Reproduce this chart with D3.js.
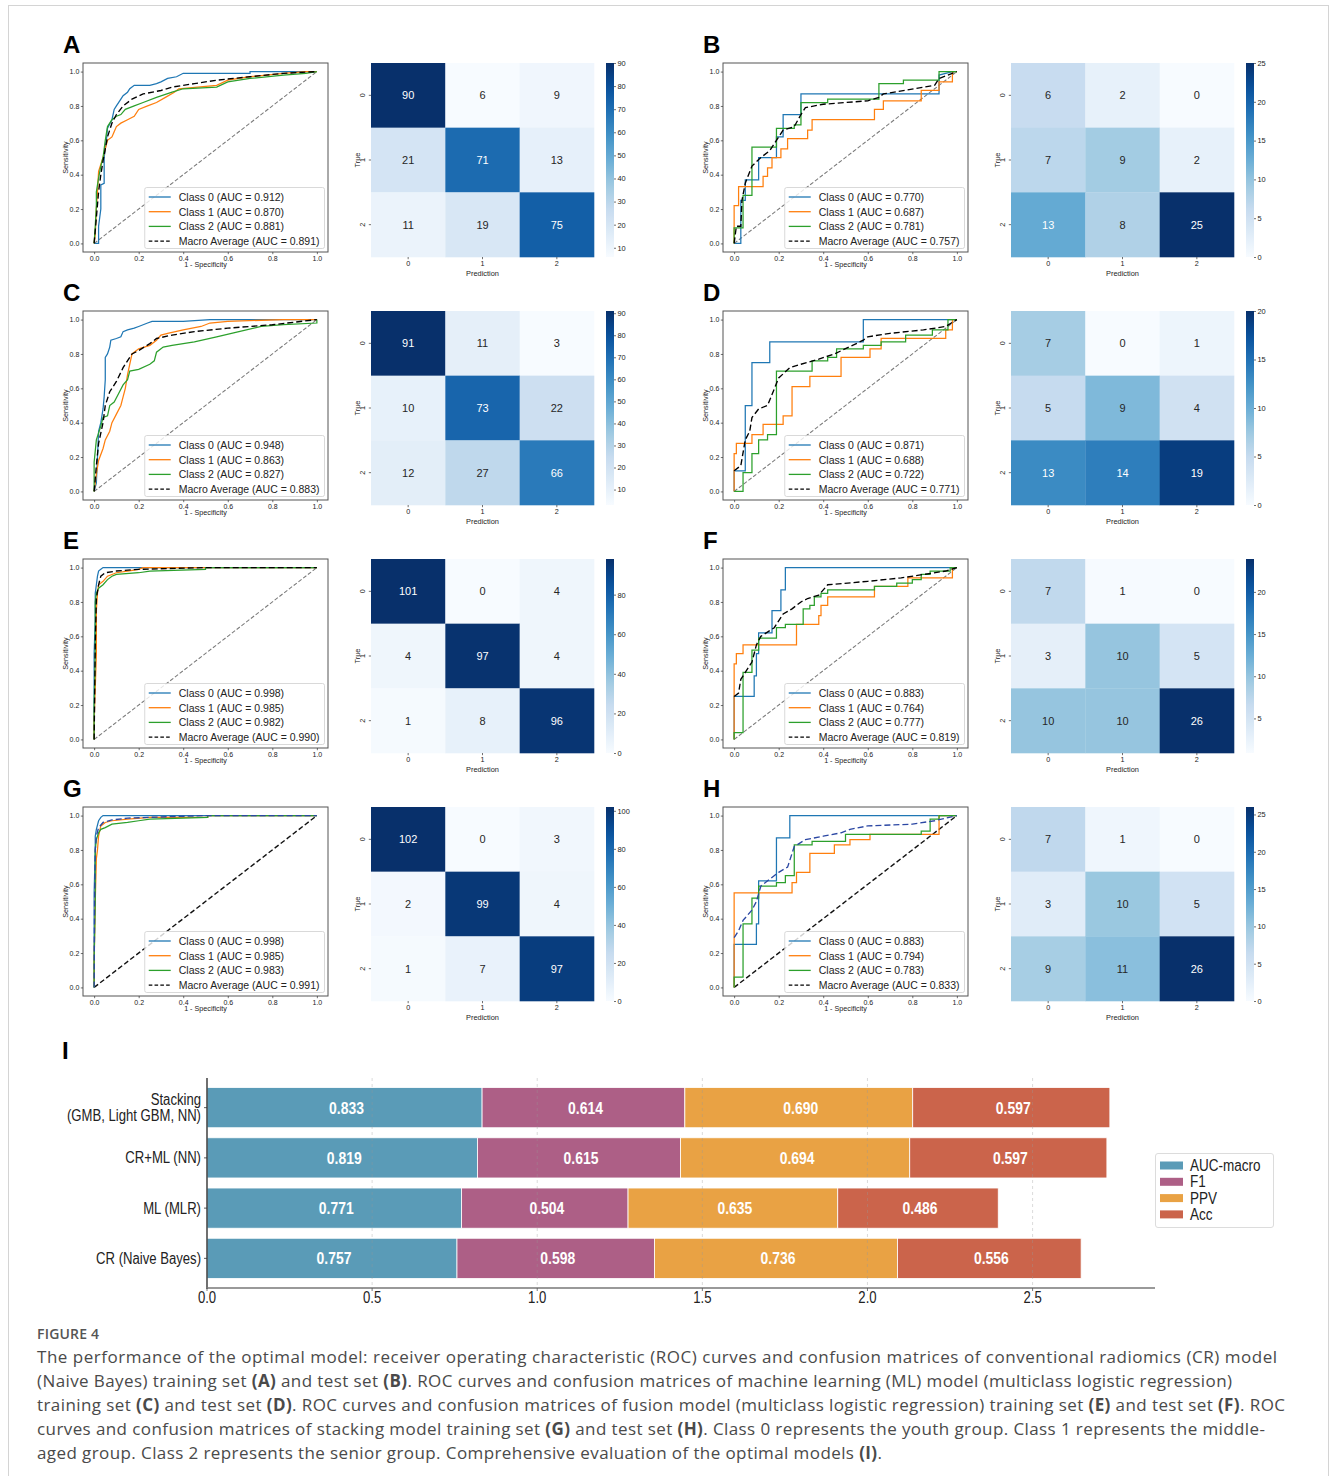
<!DOCTYPE html>
<html><head><meta charset="utf-8">
<script src="https://cdn.jsdelivr.net/npm/d3@7"></script>
<style>body{margin:0;background:#fff}svg{display:block}</style>
</head><body>
<svg id="fig" width="1330" height="1476"></svg>
<script>
// ---------------- DATA ----------------
const panelLetters = ["A","B","C","D","E","F","G","H"];
const classNames = ["Class 0","Class 1","Class 2","Macro Average"];
const rocTicks = [0,0.2,0.4,0.6,0.8,1.0];
const diagLine = [[0,0],[1,1]];

// Panel A (CR training)
const rocA0 = [[0,0],[0.02,0],[0.02,0.1],[0.03,0.2],[0.03,0.34],[0.045,0.35],[0.045,0.5],[0.055,0.6],[0.06,0.67],[0.08,0.72],[0.09,0.78],[0.1,0.8],[0.12,0.84],[0.13,0.86],[0.15,0.88],[0.16,0.9],[0.18,0.92],[0.25,0.92],[0.28,0.93],[0.3,0.94],[0.33,0.96],[0.37,0.97],[0.4,0.99],[0.7,0.99],[0.7,1.0],[1,1]];
const rocA1 = [[0,0],[0.005,0.05],[0.01,0.2],[0.015,0.3],[0.02,0.42],[0.03,0.46],[0.04,0.5],[0.05,0.55],[0.06,0.6],[0.08,0.62],[0.09,0.65],[0.1,0.68],[0.12,0.7],[0.15,0.72],[0.18,0.74],[0.2,0.78],[0.24,0.8],[0.28,0.82],[0.32,0.85],[0.36,0.88],[0.38,0.9],[0.55,0.92],[0.6,0.95],[0.7,0.97],[0.85,0.99],[0.95,1.0],[1,1]];
const rocA2 = [[0,0],[0.005,0.1],[0.01,0.22],[0.01,0.3],[0.02,0.38],[0.03,0.45],[0.04,0.5],[0.05,0.6],[0.06,0.68],[0.08,0.72],[0.1,0.74],[0.12,0.75],[0.14,0.78],[0.18,0.8],[0.22,0.82],[0.28,0.85],[0.35,0.88],[0.4,0.9],[0.55,0.91],[0.6,0.94],[0.7,0.96],[0.85,0.98],[0.95,0.99],[1,1]];
const rocAm = [[0,0],[0.01,0.15],[0.02,0.3],[0.03,0.4],[0.04,0.48],[0.05,0.55],[0.06,0.62],[0.08,0.7],[0.1,0.75],[0.13,0.8],[0.17,0.84],[0.22,0.87],[0.3,0.89],[0.35,0.91],[0.45,0.93],[0.55,0.95],[0.7,0.97],[0.85,0.99],[1,1]];
// Panel B (CR test)
const rocB0 = [[0,0],[0.03,0],[0.03,0.25],[0.05,0.25],[0.05,0.37],[0.11,0.37],[0.11,0.5],[0.19,0.5],[0.19,0.62],[0.22,0.62],[0.22,0.75],[0.3,0.75],[0.3,0.87],[0.92,0.87],[0.92,0.98],[0.98,1.0],[1,1]];
const rocB1 = [[0,0],[0,0.22],[0.02,0.22],[0.02,0.33],[0.13,0.33],[0.13,0.39],[0.15,0.39],[0.15,0.44],[0.17,0.44],[0.17,0.5],[0.21,0.5],[0.21,0.55],[0.24,0.55],[0.24,0.61],[0.33,0.61],[0.33,0.66],[0.35,0.66],[0.35,0.72],[0.63,0.72],[0.63,0.78],[0.67,0.78],[0.67,0.83],[0.84,0.83],[0.84,0.89],[0.92,0.89],[0.92,0.94],[0.98,0.94],[0.98,1.0],[1,1]];
const rocB2 = [[0,0],[0,0.09],[0.04,0.09],[0.04,0.28],[0.08,0.28],[0.08,0.56],[0.19,0.56],[0.19,0.67],[0.27,0.67],[0.27,0.69],[0.3,0.69],[0.3,0.82],[0.42,0.82],[0.42,0.84],[0.65,0.84],[0.65,0.93],[0.76,0.93],[0.76,0.95],[0.92,0.95],[0.92,1.0],[1,1]];
const rocBm = [[0,0],[0.01,0.1],[0.03,0.1],[0.035,0.25],[0.05,0.35],[0.08,0.45],[0.12,0.5],[0.16,0.54],[0.19,0.6],[0.22,0.66],[0.27,0.68],[0.3,0.75],[0.32,0.79],[0.4,0.81],[0.6,0.83],[0.65,0.85],[0.67,0.87],[0.9,0.92],[0.92,0.96],[1,1]];
// Panel C (ML training)
const rocC0 = [[0,0],[0.01,0.05],[0.015,0.2],[0.02,0.35],[0.03,0.4],[0.04,0.48],[0.045,0.55],[0.05,0.65],[0.05,0.78],[0.06,0.8],[0.07,0.84],[0.075,0.88],[0.1,0.89],[0.12,0.9],[0.13,0.93],[0.15,0.94],[0.18,0.95],[0.2,0.96],[0.24,0.98],[0.26,0.99],[0.4,0.99],[0.52,1.0],[1,1]];
const rocC1 = [[0,0],[0.01,0.1],[0.02,0.18],[0.04,0.25],[0.05,0.3],[0.07,0.35],[0.08,0.4],[0.1,0.45],[0.12,0.5],[0.13,0.55],[0.14,0.6],[0.15,0.68],[0.17,0.8],[0.2,0.83],[0.25,0.85],[0.28,0.88],[0.3,0.91],[0.33,0.92],[0.4,0.94],[0.48,0.96],[0.52,0.98],[0.6,0.99],[0.85,1.0],[1,1]];
const rocC2 = [[0,0],[0,0.17],[0.01,0.3],[0.03,0.38],[0.04,0.43],[0.06,0.44],[0.07,0.5],[0.09,0.52],[0.11,0.57],[0.13,0.62],[0.15,0.65],[0.16,0.7],[0.2,0.71],[0.25,0.74],[0.27,0.76],[0.28,0.81],[0.31,0.84],[0.35,0.85],[0.45,0.87],[0.55,0.9],[0.65,0.93],[0.75,0.96],[0.85,0.97],[1,0.98],[1,1]];
const rocCm = [[0,0],[0.01,0.15],[0.02,0.28],[0.04,0.4],[0.05,0.5],[0.07,0.58],[0.1,0.64],[0.13,0.72],[0.17,0.8],[0.2,0.82],[0.25,0.86],[0.28,0.89],[0.35,0.91],[0.45,0.93],[0.6,0.95],[0.8,0.97],[1,1]];
// Panel D (ML test)
const rocD0 = [[0,0],[0,0.12],[0.05,0.12],[0.05,0.5],[0.08,0.5],[0.08,0.75],[0.16,0.75],[0.16,0.87],[0.58,0.87],[0.58,1.0],[1,1]];
const rocD1 = [[0,0],[0,0.22],[0.01,0.22],[0.01,0.28],[0.08,0.28],[0.08,0.33],[0.13,0.33],[0.13,0.39],[0.22,0.39],[0.22,0.44],[0.26,0.44],[0.26,0.61],[0.34,0.61],[0.34,0.67],[0.48,0.67],[0.48,0.78],[0.61,0.78],[0.61,0.83],[0.66,0.83],[0.66,0.89],[0.95,0.89],[0.95,0.94],[0.98,0.94],[0.98,1.0],[1,1]];
const rocD2 = [[0,0],[0.04,0],[0.04,0.11],[0.08,0.11],[0.08,0.22],[0.11,0.22],[0.11,0.3],[0.15,0.3],[0.15,0.33],[0.19,0.33],[0.19,0.7],[0.35,0.7],[0.35,0.76],[0.42,0.76],[0.42,0.78],[0.46,0.78],[0.46,0.83],[0.58,0.83],[0.58,0.85],[0.66,0.85],[0.66,0.87],[0.77,0.87],[0.77,0.91],[0.89,0.91],[0.89,0.94],[0.96,0.94],[0.96,1.0],[1,1]];
const rocDm = [[0,0.12],[0.03,0.15],[0.05,0.3],[0.07,0.35],[0.08,0.43],[0.11,0.48],[0.15,0.5],[0.2,0.66],[0.25,0.72],[0.3,0.74],[0.38,0.77],[0.45,0.8],[0.58,0.88],[0.6,0.9],[0.7,0.92],[0.85,0.94],[0.95,0.96],[1,1]];
// Panel E (fusion training)
const rocE0 = [[0,0],[0,0.5],[0.005,0.7],[0.005,0.85],[0.01,0.9],[0.015,0.95],[0.02,0.98],[0.03,0.99],[0.04,1],[1,1]];
const rocE1 = [[0,0],[0,0.1],[0.005,0.3],[0.01,0.5],[0.01,0.75],[0.015,0.85],[0.02,0.9],[0.04,0.92],[0.06,0.95],[0.1,0.97],[0.15,0.98],[0.2,0.99],[0.22,1.0],[1,1]];
const rocE2 = [[0,0],[0,0.2],[0.005,0.5],[0.005,0.8],[0.01,0.85],[0.02,0.88],[0.04,0.9],[0.06,0.93],[0.08,0.95],[0.1,0.96],[0.2,0.97],[0.25,0.98],[0.5,0.99],[0.5,1.0],[1,1]];
const rocEm = [[0,0],[0.005,0.55],[0.01,0.82],[0.02,0.9],[0.03,0.95],[0.05,0.97],[0.1,0.98],[0.2,0.99],[0.5,1.0],[1,1]];
// Panel F (fusion test)
const rocF0 = [[0,0],[0,0.25],[0.09,0.25],[0.09,0.37],[0.1,0.37],[0.1,0.5],[0.11,0.5],[0.11,0.62],[0.17,0.62],[0.17,0.75],[0.21,0.75],[0.21,0.87],[0.23,0.87],[0.23,1.0],[1,1]];
const rocF1 = [[0,0],[0,0.44],[0.01,0.44],[0.01,0.5],[0.04,0.5],[0.04,0.55],[0.28,0.55],[0.28,0.67],[0.38,0.67],[0.38,0.72],[0.39,0.72],[0.39,0.78],[0.42,0.78],[0.42,0.83],[0.63,0.83],[0.63,0.89],[0.78,0.89],[0.78,0.94],[0.98,0.94],[0.98,1.0],[1,1]];
const rocF2 = [[0,0],[0,0.04],[0.04,0.04],[0.04,0.39],[0.08,0.39],[0.08,0.52],[0.11,0.52],[0.11,0.59],[0.19,0.59],[0.19,0.65],[0.23,0.65],[0.23,0.67],[0.31,0.67],[0.31,0.76],[0.34,0.76],[0.34,0.78],[0.36,0.78],[0.36,0.83],[0.39,0.83],[0.39,0.85],[0.42,0.85],[0.42,0.87],[0.63,0.87],[0.63,0.89],[0.73,0.89],[0.73,0.91],[0.8,0.91],[0.8,0.93],[0.84,0.93],[0.84,0.96],[0.88,0.96],[0.88,0.98],[0.97,0.98],[0.97,1.0],[1,1]];
const rocFm = [[0,0.25],[0.02,0.27],[0.03,0.35],[0.05,0.39],[0.08,0.45],[0.1,0.55],[0.12,0.6],[0.18,0.65],[0.22,0.73],[0.26,0.76],[0.3,0.8],[0.33,0.82],[0.38,0.84],[0.42,0.9],[0.6,0.92],[0.75,0.94],[0.85,0.96],[0.95,0.98],[1,1]];
// Panel G (stacking training)
const rocG0 = [[0,0],[0,0.55],[0.005,0.8],[0.005,0.88],[0.01,0.92],[0.02,0.97],[0.03,0.99],[0.04,1.0],[1,1]];
const rocG1 = [[0,0],[0,0.15],[0.005,0.5],[0.01,0.75],[0.015,0.8],[0.02,0.88],[0.03,0.94],[0.05,0.96],[0.08,0.97],[0.15,0.98],[0.25,0.99],[0.51,0.99],[0.51,1.0],[1,1]];
const rocG2 = [[0,0],[0,0.15],[0.005,0.5],[0.005,0.8],[0.01,0.86],[0.02,0.9],[0.03,0.92],[0.05,0.93],[0.08,0.95],[0.15,0.96],[0.2,0.97],[0.25,0.98],[0.51,0.99],[0.51,1.0],[1,1]];
const rocGm = [[0,0],[0.002,0.5],[0.005,0.8],[0.01,0.88],[0.02,0.93],[0.04,0.96],[0.08,0.975],[0.15,0.985],[0.25,0.99],[0.5,1.0],[1,1]];
// Panel H (stacking test)
const rocH0 = [[0,0],[0,0.25],[0.1,0.25],[0.1,0.37],[0.11,0.37],[0.11,0.62],[0.19,0.62],[0.19,0.87],[0.25,0.87],[0.25,1.0],[1,1]];
const rocH1 = [[0,0],[0,0.55],[0.26,0.55],[0.26,0.61],[0.28,0.61],[0.28,0.67],[0.34,0.67],[0.34,0.78],[0.45,0.78],[0.45,0.83],[0.52,0.83],[0.52,0.86],[0.61,0.86],[0.61,0.89],[0.92,0.89],[0.92,0.94],[0.92,1.0],[1,1]];
const rocH2 = [[0,0],[0,0.06],[0.04,0.06],[0.04,0.37],[0.08,0.37],[0.08,0.52],[0.11,0.52],[0.11,0.59],[0.19,0.59],[0.19,0.61],[0.23,0.61],[0.23,0.65],[0.27,0.65],[0.27,0.83],[0.35,0.83],[0.35,0.85],[0.5,0.85],[0.5,0.89],[0.84,0.89],[0.84,0.91],[0.88,0.91],[0.88,0.98],[0.92,0.98],[0.92,1.0],[1,1]];
const rocHm = [[0,0.29],[0.02,0.33],[0.04,0.39],[0.08,0.45],[0.1,0.5],[0.12,0.59],[0.16,0.63],[0.2,0.67],[0.24,0.7],[0.27,0.82],[0.32,0.86],[0.4,0.88],[0.48,0.9],[0.52,0.92],[0.6,0.94],[0.8,0.95],[0.9,0.97],[1,1]];

const rocSets = [[rocA0,rocA1,rocA2,rocAm],[rocB0,rocB1,rocB2,rocBm],[rocC0,rocC1,rocC2,rocCm],[rocD0,rocD1,rocD2,rocDm],
                 [rocE0,rocE1,rocE2,rocEm],[rocF0,rocF1,rocF2,rocFm],[rocG0,rocG1,rocG2,rocGm],[rocH0,rocH1,rocH2,rocHm]];

const aucA = ["0.912","0.870","0.881","0.891"];
const aucB = ["0.770","0.687","0.781","0.757"];
const aucC = ["0.948","0.863","0.827","0.883"];
const aucD = ["0.871","0.688","0.722","0.771"];
const aucE = ["0.998","0.985","0.982","0.990"];
const aucF = ["0.883","0.764","0.777","0.819"];
const aucG = ["0.998","0.985","0.983","0.991"];
const aucH = ["0.883","0.794","0.783","0.833"];
const aucSets = [aucA,aucB,aucC,aucD,aucE,aucF,aucG,aucH];

// Confusion matrices (rows = True, cols = Prediction)
const cmA = [[90,6,9],[21,71,13],[11,19,75]];
const cmB = [[6,2,0],[7,9,2],[13,8,25]];
const cmC = [[91,11,3],[10,73,22],[12,27,66]];
const cmD = [[7,0,1],[5,9,4],[13,14,19]];
const cmE = [[101,0,4],[4,97,4],[1,8,96]];
const cmF = [[7,1,0],[3,10,5],[10,10,26]];
const cmG = [[102,0,3],[2,99,4],[1,7,97]];
const cmH = [[7,1,0],[3,10,5],[9,11,26]];
const cmSets = [cmA,cmB,cmC,cmD,cmE,cmF,cmG,cmH];
const cmLabels = ["0","1","2"];

// colour-bar ranges and ticks
const cbarDomains = [[6,90],[0,25],[3,91],[0,20],[0,98],[0.9,23.9],[0,102],[0,26]];
const cbarTicks = [[10,20,30,40,50,60,70,80,90],[0,5,10,15,20,25],[10,20,30,40,50,60,70,80,90],[0,5,10,15,20],
                   [0,20,40,60,80],[5,10,15,20],[0,20,40,60,80,100],[0,5,10,15,20,25]];

// Panel I: stacked bars
const barCategories = ["Stacking\n(GMB, Light GBM, NN)","CR+ML (NN)","ML (MLR)","CR (Naive Bayes)"];
const metricNames = ["AUC-macro","F1","PPV","Acc"];
const aucMacro = [0.833,0.819,0.771,0.757];
const f1Score  = [0.614,0.615,0.504,0.598];
const ppvScore = [0.690,0.694,0.635,0.736];
const accScore = [0.597,0.597,0.486,0.556];
const barTicks = [0.0,0.5,1.0,1.5,2.0,2.5];

// Caption
const captionTitle = "FIGURE 4";
const captionLines = [
  [["The performance of the optimal model: receiver operating characteristic (ROC) curves and confusion matrices of conventional radiomics (CR) model",0]],
  [["(Naive Bayes) training set ",0],["(A)",1],[" and test set ",0],["(B)",1],[". ROC curves and confusion matrices of machine learning (ML) model (multiclass logistic regression)",0]],
  [["training set ",0],["(C)",1],[" and test set ",0],["(D)",1],[". ROC curves and confusion matrices of fusion model (multiclass logistic regression) training set ",0],["(E)",1],[" and test set ",0],["(F)",1],[". ROC",0]],
  [["curves and confusion matrices of stacking model training set ",0],["(G)",1],[" and test set ",0],["(H)",1],[". Class 0 represents the youth group. Class 1 represents the middle-",0]],
  [["aged group. Class 2 represents the senior group. Comprehensive evaluation of the optimal models ",0],["(I)",1],[".",0]]
];
const captionWidths = [1240,1195,1248,1228,845];

// ---------------- DRAWING ----------------
const svg = d3.select("#fig");
const FONT = "'Liberation Sans', Arial, sans-serif";
svg.append("rect").attr("x",8.5).attr("y",5.5).attr("width",1320).attr("height",1490)
   .attr("fill","#fff").attr("stroke","#d4d4d4").attr("stroke-width",1);

const classColors = ["#1f77b4","#ff7f0e","#2ca02c"];
const macroColors = ["#000","#000","#000","#000","#000","#000","#2b47a3","#2b47a3"];
const diagStyles = [0,0,0,0,0,0,1,1];

const blues = d3.scaleLinear().domain(d3.range(9).map(i=>i/8))
  .range(["#f7fbff","#deebf7","#c6dbef","#9ecae1","#6baed6","#4292c6","#2171b5","#08519c","#08306b"]).clamp(true);

function relLum(c){
  const r = d3.rgb(c);
  const f = v => { v/=255; return v<=0.03928 ? v/12.92 : Math.pow((v+0.055)/1.055,2.4); };
  return 0.2126*f(r.r)+0.7152*f(r.g)+0.0722*f(r.b);
}

function styleAxis(a, size){
  a.attr("font-family",FONT).attr("font-size",size);
  a.selectAll("text").attr("fill","#222");
  a.selectAll("line").attr("stroke","#333").attr("stroke-width",0.7);
}

const RW = 245, RH = 189, CW = 223, CH = 194;

function drawRoc(i, x0, y0){
  const g = svg.append("g");
  const curves = rocSets[i], aucs = aucSets[i];
  const x = d3.scaleLinear().domain([-0.05,1.05]).range([x0,x0+RW]);
  const y = d3.scaleLinear().domain([-0.05,1.05]).range([y0+RH,y0]);
  const line = d3.line().x(d=>x(d[0])).y(d=>y(d[1]));
  const strongDiag = diagStyles[i]===1;
  g.append("path").datum(diagLine).attr("d",line).attr("fill","none")
    .attr("stroke", strongDiag ? "#111" : "#7a7a7a")
    .attr("stroke-width", strongDiag ? 1.4 : 1.05)
    .attr("stroke-dasharray", strongDiag ? "5,2.6" : "4,2");
  curves.forEach((c,k)=>{
    g.append("path").datum(c).attr("d",line).attr("fill","none")
      .attr("stroke", k<3 ? classColors[k] : macroColors[i])
      .attr("stroke-width", k<3 ? 1.25 : 1.35)
      .attr("stroke-dasharray", k<3 ? null : "6,3")
      .attr("stroke-linejoin","miter");
  });
  g.append("rect").attr("x",x0).attr("y",y0).attr("width",RW).attr("height",RH)
    .attr("fill","none").attr("stroke","#555").attr("stroke-width",1);
  const xa = g.append("g").attr("transform",`translate(0,${y0+RH})`)
    .call(d3.axisBottom(x).tickValues(rocTicks).tickFormat(d3.format(".1f")).tickSize(2.2).tickPadding(1.5));
  xa.select(".domain").remove(); styleAxis(xa,7);
  const ya = g.append("g").attr("transform",`translate(${x0},0)`)
    .call(d3.axisLeft(y).tickValues(rocTicks).tickFormat(d3.format(".1f")).tickSize(2.2).tickPadding(1.5));
  ya.select(".domain").remove(); styleAxis(ya,7);
  g.append("text").attr("x",(x(0)+x(1))/2).attr("y",y0+RH+15).attr("text-anchor","middle")
    .attr("font-family",FONT).attr("font-size",7.2).attr("fill","#222").text("1 - Specificity");
  g.append("text").attr("transform",`translate(${x0-15.5},${y0+RH/2}) rotate(-90)`).attr("text-anchor","middle")
    .attr("font-family",FONT).attr("font-size",7.2).attr("fill","#222").text("Sensitivity");
  // legend
  const lg = g.append("g");
  const texts = classNames.map((n,k)=>`${n} (AUC = ${aucs[k]})`);
  const box = lg.append("rect").attr("rx",2).attr("fill","#fff").attr("fill-opacity",0.8)
    .attr("stroke","#cfcfcf").attr("stroke-width",0.8);
  let maxW = 0;
  const tEls = texts.map(t=>{
    const el = lg.append("text").attr("font-family",FONT).attr("font-size",10.5).attr("fill","#222").text(t);
    maxW = Math.max(maxW, el.node().getComputedTextLength());
    return el;
  });
  const bw = 34 + maxW + 5, bh = 61;
  const bx = x0+RW-3.5-bw, by = y0+RH-3.5-bh;
  box.attr("x",bx).attr("y",by).attr("width",bw).attr("height",bh);
  tEls.forEach((el,k)=>{
    const cy = by+9.5+14.7*k;
    el.attr("x",bx+34).attr("y",cy+3.8);
    lg.append("line").attr("x1",bx+4).attr("x2",bx+26).attr("y1",cy).attr("y2",cy)
      .attr("stroke", k<3 ? classColors[k] : "#000").attr("stroke-width",1.3)
      .attr("stroke-dasharray", k<3 ? null : "3.6,2.2");
  });
}

function drawCM(i, x0, y0){
  const g = svg.append("g");
  const mat = cmSets[i];
  const xb = d3.scaleBand().domain([0,1,2]).range([x0,x0+CW]);
  const yb = d3.scaleBand().domain([0,1,2]).range([y0,y0+CH]);
  const t = d3.scaleLinear().domain(cbarDomains[i]).range([0,1]).clamp(true);
  mat.forEach((row,r)=>row.forEach((v,c)=>{
    const col = blues(t(v));
    g.append("rect").attr("x",xb(c)).attr("y",yb(r)).attr("width",xb.bandwidth()+0.3).attr("height",yb.bandwidth()+0.3).attr("fill",col);
    g.append("text").attr("x",xb(c)+xb.bandwidth()/2).attr("y",yb(r)+yb.bandwidth()/2+4)
      .attr("text-anchor","middle").attr("font-family",FONT).attr("font-size",11)
      .attr("fill", relLum(col) > 0.408 ? "#262626" : "#fff").text(v);
  }));
  const xa = g.append("g").attr("transform",`translate(0,${y0+CH})`)
    .call(d3.axisBottom(d3.scaleBand().domain(cmLabels).range([x0,x0+CW])).tickSize(2.2).tickPadding(1.5));
  xa.select(".domain").remove(); styleAxis(xa,7.2);
  const ya = g.append("g").attr("transform",`translate(${x0},0)`)
    .call(d3.axisLeft(d3.scaleBand().domain(cmLabels).range([y0,y0+CH])).tickSize(2.2).tickPadding(1.5));
  ya.select(".domain").remove(); styleAxis(ya,7.2);
  ya.selectAll(".tick text").attr("x",-6).attr("y",0).attr("dy",null)
    .attr("transform","rotate(-90,-6,0)").attr("text-anchor","middle");
  g.append("text").attr("x",x0+CW/2).attr("y",y0+CH+19).attr("text-anchor","middle")
    .attr("font-family",FONT).attr("font-size",7.4).attr("fill","#222").text("Prediction");
  g.append("text").attr("transform",`translate(${x0-11},${y0+CH/2}) rotate(-90)`).attr("text-anchor","middle")
    .attr("font-family",FONT).attr("font-size",7.4).attr("fill","#222").text("True");
  // colour bar
  const cx = x0+CW+12, cw = 8;
  const cy = d3.scaleLinear().domain(cbarDomains[i]).range([y0+CH,y0]);
  const gid = "grad"+i;
  const grad = svg.append("defs").append("linearGradient").attr("id",gid)
    .attr("x1",0).attr("y1",1).attr("x2",0).attr("y2",0);
  d3.range(0,1.0001,0.05).forEach(s=>grad.append("stop").attr("offset",s).attr("stop-color",blues(s)));
  g.append("rect").attr("x",cx).attr("y",y0).attr("width",cw).attr("height",CH).attr("fill",`url(#${gid})`);
  const ca = g.append("g").attr("transform",`translate(${cx+cw},0)`)
    .call(d3.axisRight(cy).tickValues(cbarTicks[i]).tickFormat(d3.format("d")).tickSize(2).tickPadding(1.5));
  ca.select(".domain").remove(); styleAxis(ca,7.4);
}

panelLetters.forEach((L,i)=>{
  const col = i%2, row = Math.floor(i/2);
  const top = 63 + 248*row;
  svg.append("text").attr("x",63+640*col).attr("y",top-10).attr("font-family",FONT)
    .attr("font-weight","bold").attr("font-size",24).attr("fill","#000").text(L);
  drawRoc(i, 83+640*col, top);
  drawCM(i, 371+640*col, top);
});

// ---------------- Panel I ----------------
svg.append("text").attr("x",62).attr("y",1059).attr("font-family",FONT).attr("font-weight","bold")
  .attr("font-size",24).attr("fill","#000").text("I");

const barRows = barCategories.map((c,k)=>({cat:c, "AUC-macro":aucMacro[k], "F1":f1Score[k], "PPV":ppvScore[k], "Acc":accScore[k]}));
const stacked = d3.stack().keys(metricNames)(barRows);
const totals = barRows.map(r=>metricNames.reduce((s,m)=>s+r[m],0));
const bx = d3.scaleLinear().domain([0, d3.max(totals)*1.05]).range([207,1155]);
const by = d3.scaleLinear().domain([-0.59,3.59]).range([1078,1288]);
const metricColors = ["#5a9bb7","#ad5f86","#e9a244","#cb644b"];
const NARROW = 0.82;
function ntext(g, x, y, str, size, weight, anchor, fill){
  return g.append("text").attr("transform",`translate(${x},${y}) scale(${NARROW},1)`)
    .attr("text-anchor",anchor).attr("font-family",FONT).attr("font-size",size)
    .attr("font-weight",weight).attr("fill",fill).text(str);
}
const gI = svg.append("g");
stacked.forEach((layer,m)=>{
  layer.forEach((d,k)=>{
    gI.append("rect").attr("x",bx(d[0])).attr("y",by(k-0.4)).attr("width",bx(d[1])-bx(d[0])).attr("height",by(k+0.4)-by(k-0.4))
      .attr("fill",metricColors[m]).attr("stroke","#fff").attr("stroke-width",0.8);
  });
});
// dashed grid
barTicks.slice(1).forEach(v=>{
  gI.append("line").attr("x1",bx(v)).attr("x2",bx(v)).attr("y1",1078).attr("y2",1288)
    .attr("stroke","#999").attr("stroke-opacity",0.45).attr("stroke-width",0.8).attr("stroke-dasharray","3,3");
});
stacked.forEach((layer,m)=>{
  layer.forEach((d,k)=>{
    ntext(gI, (bx(d[0])+bx(d[1]))/2 + 2, by(k)+6, d3.format(".3f")(d.data[metricNames[m]]), 17, "bold", "middle", "#fff");
  });
});
// spines
gI.append("line").attr("x1",207).attr("x2",207).attr("y1",1078).attr("y2",1289).attr("stroke","#333").attr("stroke-width",1.4);
gI.append("line").attr("x1",206).attr("x2",1155).attr("y1",1288).attr("y2",1288).attr("stroke","#777").attr("stroke-width",1.4);
// x ticks
barTicks.forEach(v=>{
  gI.append("line").attr("x1",bx(v)).attr("x2",bx(v)).attr("y1",1288).attr("y2",1291).attr("stroke","#555").attr("stroke-width",0.8);
  ntext(gI, bx(v), 1303, d3.format(".1f")(v), 16, "normal", "middle", "#222");
});
// y ticks & labels
barCategories.forEach((c,k)=>{
  gI.append("line").attr("x1",204).attr("x2",207).attr("y1",by(k)).attr("y2",by(k)).attr("stroke","#333").attr("stroke-width",0.8);
  const parts = c.split("\n");
  parts.forEach((p,j)=>{
    const yy = by(k) + 5.5 + (j - (parts.length-1)/2)*16.5;
    ntext(gI, 201, yy, p, 16, "normal", "end", "#222");
  });
});
// legend
gI.append("rect").attr("x",1155.5).attr("y",1153.5).attr("width",118).attr("height",74).attr("rx",2.5)
  .attr("fill","#fff").attr("stroke","#dcdcdc").attr("stroke-width",1);
metricNames.forEach((m,k)=>{
  const cy = 1165.5 + 16.3*k;
  gI.append("rect").attr("x",1160).attr("y",cy-4).attr("width",23).attr("height",8).attr("fill",metricColors[k]);
  ntext(gI, 1190, cy+5.5, m, 16.5, "normal", "start", "#222");
});

// ---------------- Caption ----------------
svg.append("text").attr("x",37).attr("y",1339).attr("font-family","'Open Sans', sans-serif")
  .attr("font-size",14).attr("font-weight",600).attr("fill","#555").attr("letter-spacing",0.2).text(captionTitle);
captionLines.forEach((segs,k)=>{
  const t = svg.append("text").attr("x",37).attr("y",1363+24*k).attr("font-family","'Open Sans', sans-serif")
    .attr("font-size",17).attr("fill","#4a4a4a");
  segs.forEach(([s,b])=>t.append("tspan").attr("font-weight", b ? 700 : 400).text(s));
  t.attr("textLength",captionWidths[k]).attr("lengthAdjust","spacing");
});
</script>
</body></html>
